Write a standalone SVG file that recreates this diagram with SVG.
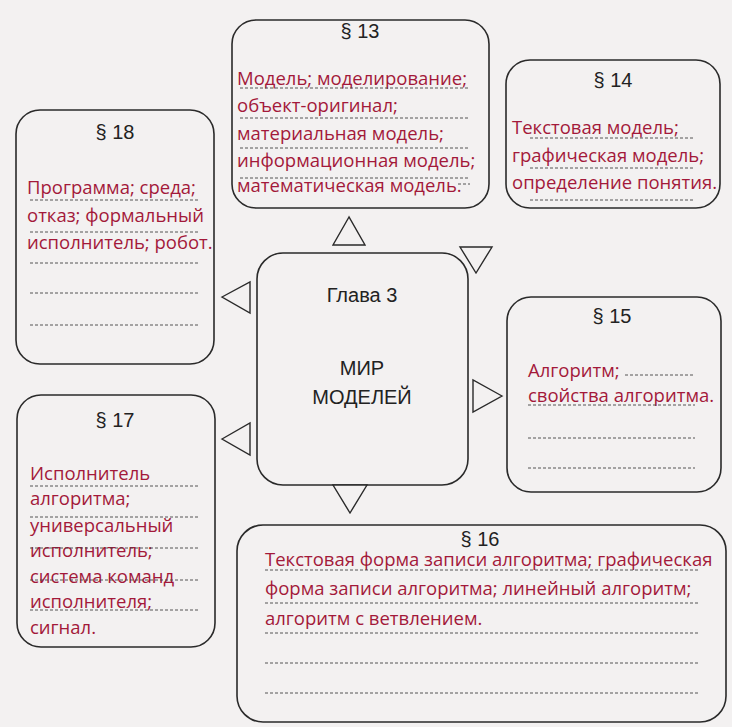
<svg xmlns="http://www.w3.org/2000/svg" width="732" height="727" viewBox="0 0 732 727">
<style>
.box{fill:none;stroke:#2a2a2a;stroke-width:1.6}
.tri{fill:#f3f1f1;stroke:#2a2a2a;stroke-width:1.4}
.t{font-family:"Liberation Sans",Arial,sans-serif;font-size:20px;fill:#222;text-anchor:middle}
.r{font-family:"Open Sans","Noto Sans",sans-serif;font-size:18.5px;fill:#a3193a}
.d{stroke:#444;stroke-width:0.9;stroke-dasharray:3 2}
</style>
<rect width="732" height="727" fill="#f3f1f1"/>
<g id="n13">
<rect class="box" x="232" y="20" width="257" height="188" rx="24"/>
<text class="t" x="360" y="38">§ 13</text>
<text class="r" x="237" y="85">Модель; моделирование;</text>
<text class="r" x="237" y="112">объект-оригинал;</text>
<text class="r" x="237" y="140">материальная модель;</text>
<text class="r" x="237" y="167">информационная модель;</text>
<text class="r" x="237" y="192">математическая модель.</text>
<path class="d" d="M240 88H470M240 118H470M240 148H470M240 178H470M458 184H470"/>
</g>
<g id="n14">
<rect class="box" x="506" y="60" width="214" height="148" rx="24"/>
<text class="t" x="613" y="87">§ 14</text>
<text class="r" x="512" y="134">Текстовая модель;</text>
<text class="r" x="512" y="162">графическая модель;</text>
<text class="r" x="512" y="189">определение понятия.</text>
<path class="d" d="M530 138H693M530 168H693M530 200H693"/>
</g>
<g id="n18">
<rect class="box" x="16" y="110" width="198" height="254" rx="24"/>
<text class="t" x="115" y="139">§ 18</text>
<text class="r" x="27" y="194">Программа; среда;</text>
<text class="r" x="27" y="222">отказ; формальный</text>
<text class="r" x="27" y="249">исполнитель; робот.</text>
<path class="d" d="M30 200H198M30 232H198M30 263H198M30 293H198M30 325H198"/>
</g>
<g id="center">
<rect class="box" x="257" y="253" width="211" height="232" rx="26"/>
<text class="t" x="362" y="302">Глава  3</text>
<text class="t" x="362" y="375">МИР</text>
<text class="t" x="362" y="404">МОДЕЛЕЙ</text>
</g>
<g id="n15">
<rect class="box" x="507" y="297" width="214" height="195" rx="24"/>
<text class="t" x="612" y="323">§ 15</text>
<text class="r" x="528" y="377">Алгоритм;</text>
<text class="r" x="528" y="402">свойства алгоритма.</text>
<path class="d" d="M625 375H695M528 405H695M528 438H695M528 468H695"/>
</g>
<g id="n17">
<rect class="box" x="17" y="395" width="198" height="252" rx="24"/>
<text class="t" x="115" y="427">§ 17</text>
<text class="r" x="30" y="480">Исполнитель</text>
<text class="r" x="30" y="505">алгоритма;</text>
<text class="r" x="30" y="532">универсальный</text>
<text class="r" x="30" y="557">исполнитель;</text>
<text class="r" x="30" y="583">система команд</text>
<text class="r" x="30" y="608">исполнителя;</text>
<text class="r" x="30" y="634">сигнал.</text>
<path class="d" d="M30 486H200M30 517H200M30 548H200M30 580H200M30 610H200"/>
</g>
<g id="n16">
<rect class="box" x="237" y="525" width="489" height="197" rx="26"/>
<text class="t" x="480" y="546">§ 16</text>
<text class="r" x="265" y="566">Текстовая форма записи алгоритма; графическая</text>
<text class="r" x="265" y="595">форма записи алгоритма; линейный алгоритм;</text>
<text class="r" x="265" y="625">алгоритм с ветвлением.</text>
<path class="d" d="M265 570H698M265 603H698M265 633H698M265 663H698M265 693H698"/>
</g>
<g id="connectors">
<polygon class="tri" points="349,217 333,245 365,245"/>
<polygon class="tri" points="460,247 492,247 476,273"/>
<polygon class="tri" points="222,297 250,282 250,313"/>
<polygon class="tri" points="502,396 473,380 473,412"/>
<polygon class="tri" points="222,439 250,423 250,455"/>
<polygon class="tri" points="333,485 367,485 350,513"/>
</g>
</svg>
